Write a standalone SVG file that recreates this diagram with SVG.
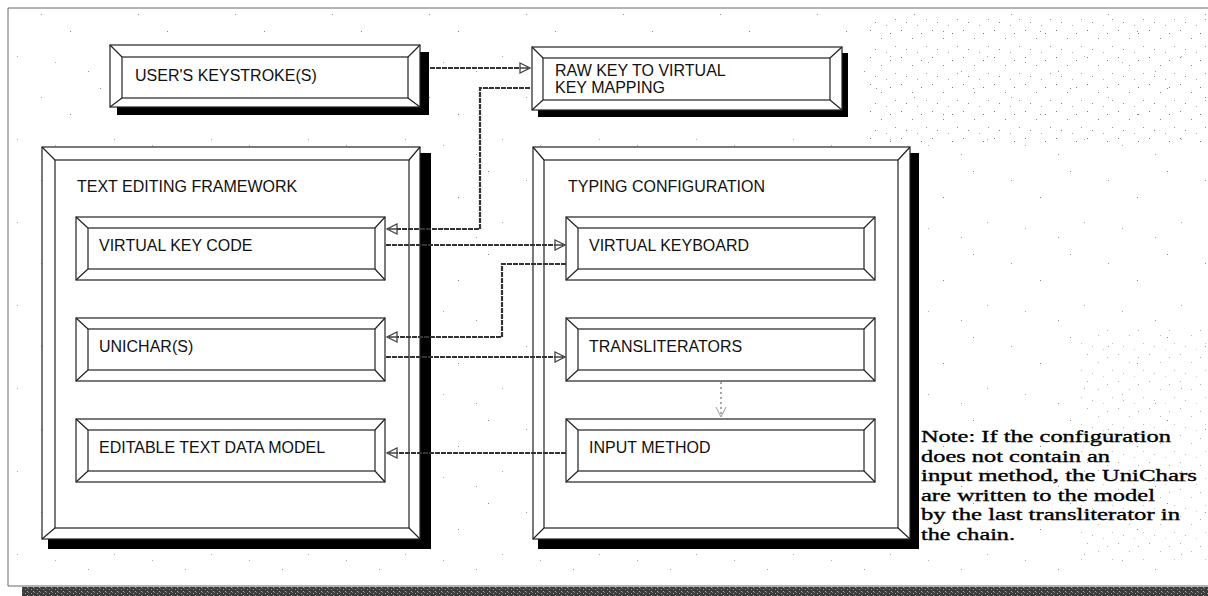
<svg xmlns="http://www.w3.org/2000/svg" width="1208" height="596" viewBox="0 0 1208 596">
<style>
.bx{fill:#fff;stroke:#222;stroke-width:1.2}
.bv{fill:none;stroke:#222;stroke-width:1.2}
.sh{fill:#000}
.lbl{font-family:"Liberation Sans",Arial,sans-serif;font-size:16px;fill:#111}
.note{font-family:"Liberation Serif","Times New Roman",serif;font-size:17.5px;fill:#000;stroke:#000;stroke-width:0.35}
.cn{fill:none;stroke:#333;stroke-width:2.2;stroke-dasharray:5 1}
.faint{fill:none;stroke:#8a8a8a;stroke-width:1.5;stroke-dasharray:2 3}
</style>
<defs>
<marker id="ah" viewBox="0 0 12 12" refX="11" refY="6" markerWidth="12" markerHeight="12" markerUnits="userSpaceOnUse" orient="auto">
<path d="M1,1 L11,6 L1,11 Z M1,6 H9" fill="#fff" stroke="#444" stroke-width="1.3"/>
</marker>
<marker id="ahf" viewBox="0 0 12 12" refX="11" refY="6" markerWidth="12" markerHeight="12" markerUnits="userSpaceOnUse" orient="auto">
<path d="M1,1 L11,6 L1,11" fill="none" stroke="#999" stroke-width="1"/>
</marker>
<pattern id="sp" width="97" height="83" patternUnits="userSpaceOnUse">
<rect x="3" y="5" width="1" height="1" fill="#888"/>
<rect x="41" y="14" width="1" height="1" fill="#999"/>
<rect x="70" y="31" width="1" height="1" fill="#888"/>
<rect x="17" y="56" width="1" height="1" fill="#aaa"/>
<rect x="88" y="71" width="1" height="1" fill="#999"/>
<rect x="55" y="62" width="1" height="1" fill="#aaa"/>
</pattern>
<pattern id="dp" width="31" height="27" patternUnits="userSpaceOnUse">
<rect x="2" y="3" width="1" height="1" fill="#777"/>
<rect x="13" y="11" width="1" height="1" fill="#888"/>
<rect x="22" y="6" width="1" height="1" fill="#777"/>
<rect x="27" y="19" width="1" height="1" fill="#999"/>
<rect x="7" y="22" width="1" height="1" fill="#888"/>
<rect x="18" y="25" width="1" height="1" fill="#aaa"/>
</pattern>
<pattern id="gr" width="6" height="4" patternUnits="userSpaceOnUse">
<rect width="6" height="4" fill="#3c3c3c"/>
<rect x="1" y="1" width="1" height="1" fill="#999"/>
<rect x="4" y="0" width="1" height="1" fill="#777"/>
<rect x="3" y="3" width="1" height="1" fill="#aaa"/>
</pattern>
</defs>
<rect width="1208" height="596" fill="#fff"/>
<g id="background">
<rect x="9" y="9" width="1199" height="576" fill="url(#sp)"/>
<rect x="870" y="12" width="338" height="130" fill="url(#dp)"/>
<rect x="1080" y="330" width="128" height="230" fill="url(#dp)" opacity="0.6"/>
<path d="M1208,8 H8 V586 H1208" fill="none" stroke="#666" stroke-width="1"/>
<rect x="22" y="587" width="1186" height="9" fill="url(#gr)"/>
</g>
<g id="node-keystrokes">
<rect class="sh" x="117" y="52" width="312" height="63"/>
<rect class="bx" x="110" y="45" width="310" height="62"/>
<rect class="bv" x="122" y="57" width="286" height="41"/>
<path class="bv" d="M110,45 L122,57 M420,45 L408,57 M110,107 L122,98 M420,107 L408,98"/>
<text class="lbl" x="135" y="81">USER'S KEYSTROKE(S)</text>
</g>
<g id="node-rawkey">
<rect class="sh" x="538" y="53" width="310" height="64"/>
<rect class="bx" x="532" y="47" width="310" height="63"/>
<rect class="bv" x="543" y="58" width="287" height="42"/>
<path class="bv" d="M532,47 L543,58 M842,47 L830,58 M532,110 L543,100 M842,110 L830,100"/>
<text class="lbl" x="555" y="76">RAW KEY TO VIRTUAL</text>
<text class="lbl" x="555" y="93">KEY MAPPING</text>
</g>
<g id="node-text-editing-framework">
<rect class="sh" x="48" y="153" width="383" height="396"/>
<rect class="bx" x="42" y="147" width="378" height="392"/>
<rect class="bv" x="55" y="160" width="354" height="368"/>
<path class="bv" d="M42,147 L55,160 M420,147 L409,160 M42,539 L55,528 M420,539 L409,528"/>
<text class="lbl" x="77" y="192">TEXT EDITING FRAMEWORK</text>
</g>
<g id="node-typing-configuration">
<rect class="sh" x="538" y="153" width="381" height="396"/>
<rect class="bx" x="533" y="147" width="377" height="392"/>
<rect class="bv" x="544" y="160" width="354" height="368"/>
<path class="bv" d="M533,147 L544,160 M910,147 L898,160 M533,539 L544,528 M910,539 L898,528"/>
<text class="lbl" x="568" y="192">TYPING CONFIGURATION</text>
</g>
<g id="node-virtual-key-code">
<rect class="bx" x="76" y="217" width="309" height="63"/>
<rect class="bv" x="88" y="228" width="287" height="41"/>
<path class="bv" d="M76,217 L88,228 M385,217 L375,228 M76,280 L88,269 M385,280 L375,269"/>
<text class="lbl" x="99" y="251">VIRTUAL KEY CODE</text>
</g>
<g id="node-unichars">
<rect class="bx" x="76" y="318" width="309" height="63"/>
<rect class="bv" x="88" y="329" width="287" height="41"/>
<path class="bv" d="M76,318 L88,329 M385,318 L375,329 M76,381 L88,370 M385,381 L375,370"/>
<text class="lbl" x="99" y="352">UNICHAR(S)</text>
</g>
<g id="node-editable-text-data-model">
<rect class="bx" x="76" y="419" width="309" height="63"/>
<rect class="bv" x="88" y="430" width="287" height="41"/>
<path class="bv" d="M76,419 L88,430 M385,419 L375,430 M76,482 L88,471 M385,482 L375,471"/>
<text class="lbl" x="99" y="453">EDITABLE TEXT DATA MODEL</text>
</g>
<g id="node-virtual-keyboard">
<rect class="bx" x="566" y="217" width="309" height="63"/>
<rect class="bv" x="578" y="228" width="286" height="41"/>
<path class="bv" d="M566,217 L578,228 M875,217 L864,228 M566,280 L578,269 M875,280 L864,269"/>
<text class="lbl" x="589" y="251">VIRTUAL KEYBOARD</text>
</g>
<g id="node-transliterators">
<rect class="bx" x="566" y="318" width="309" height="63"/>
<rect class="bv" x="578" y="329" width="286" height="41"/>
<path class="bv" d="M566,318 L578,329 M875,318 L864,329 M566,381 L578,370 M875,381 L864,370"/>
<text class="lbl" x="589" y="352">TRANSLITERATORS</text>
</g>
<g id="node-input-method">
<rect class="bx" x="566" y="419" width="309" height="63"/>
<rect class="bv" x="578" y="430" width="286" height="41"/>
<path class="bv" d="M566,419 L578,430 M875,419 L864,430 M566,482 L578,471 M875,482 L864,471"/>
<text class="lbl" x="589" y="453">INPUT METHOD</text>
</g>
<g id="connectors">
<path class="cn" d="M430,68 H530" marker-end="url(#ah)"/>
<path class="cn" d="M530,88 H480 V229 H387" marker-end="url(#ah)"/>
<path class="cn" d="M386,245 H565" marker-end="url(#ah)"/>
<path class="cn" d="M566,264 H502 V337 H387" marker-end="url(#ah)"/>
<path class="cn" d="M386,357 H565" marker-end="url(#ah)"/>
<path class="faint" d="M721,382 V417" marker-end="url(#ahf)"/>
<path class="cn" d="M566,453 H387" marker-end="url(#ah)"/>
</g>
<g id="note">
<text class="note" x="921" y="442" textLength="250" lengthAdjust="spacingAndGlyphs">Note: If the configuration</text>
<text class="note" x="921" y="461.5" textLength="189" lengthAdjust="spacingAndGlyphs">does not contain an</text>
<text class="note" x="921" y="481" textLength="276" lengthAdjust="spacingAndGlyphs">input method, the UniChars</text>
<text class="note" x="921" y="500.5" textLength="234" lengthAdjust="spacingAndGlyphs">are written to the model</text>
<text class="note" x="921" y="520" textLength="259" lengthAdjust="spacingAndGlyphs">by the last transliterator in</text>
<text class="note" x="921" y="539.5" textLength="94" lengthAdjust="spacingAndGlyphs">the chain.</text>
</g>
</svg>
